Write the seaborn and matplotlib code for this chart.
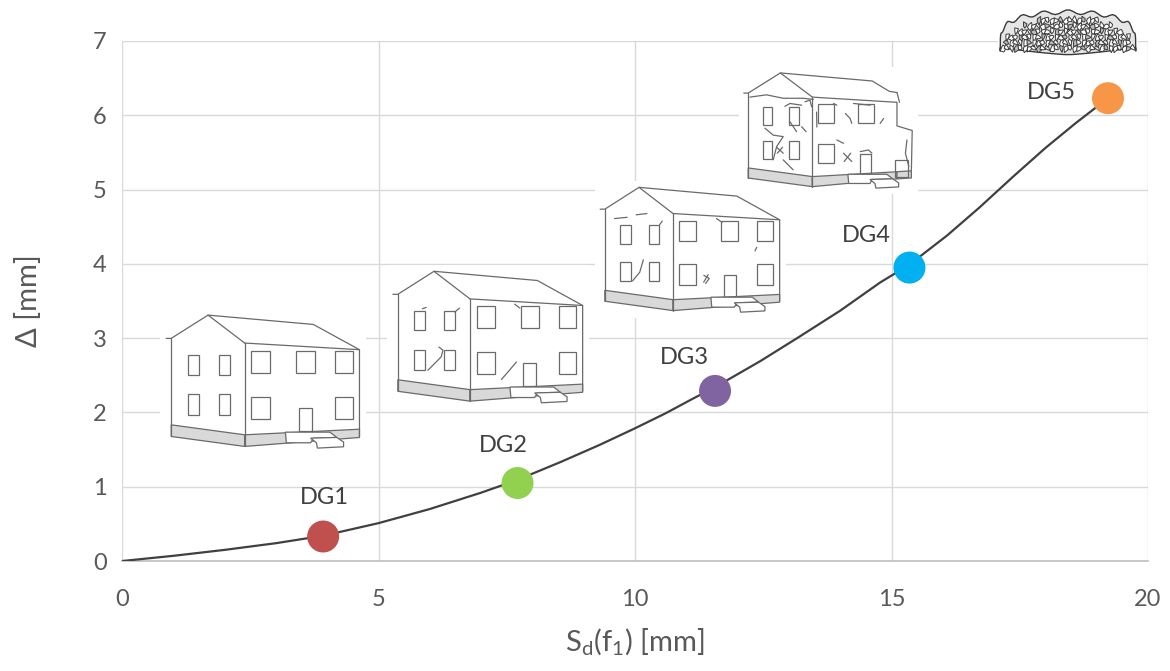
import numpy as np
import matplotlib
matplotlib.use("Agg")
import matplotlib.pyplot as plt
import matplotlib.transforms as mtransforms
from matplotlib.patches import Polygon, Rectangle
import pandas as pd
import seaborn as sns

# capacity curve
curve_x = [0, 1, 2, 3, 3.92, 5, 6, 7, 7.7, 8.54, 9.3, 9.98, 10.6, 11.14, 11.56,
           12.44, 13.16, 14.0, 14.78, 15.35, 16.08, 16.7, 17.38, 18.0, 18.6, 19.22]
curve_y = [0, 0.07, 0.15, 0.24, 0.34, 0.51, 0.70, 0.92, 1.09, 1.33, 1.56, 1.78,
           1.99, 2.19, 2.34, 2.69, 3.00, 3.37, 3.75, 3.99, 4.38, 4.75, 5.18, 5.56,
           5.90, 6.23]

# damage grades
dg_labels = ["DG1", "DG2", "DG3", "DG4", "DG5"]
dg_x = [3.92, 7.71, 11.56, 15.35, 19.22]
dg_y = [0.33, 1.05, 2.29, 3.95, 6.23]
dg_colors = ["#c0504d", "#92d050", "#8064a2", "#00b0f0", "#f79646"]
label_offsets = [(1, 28), (-10, 27), (-22, 24), (-31, 23), (-41, 4)]

x_ticks = [0, 5, 10, 15, 20]
y_ticks = [0, 1, 2, 3, 4, 5, 6, 7]

sns.set_theme(style="white")
plt.rcParams["font.family"] = ["Lato", "DejaVu Sans"]
plt.rcParams["mathtext.fontset"] = "custom"
plt.rcParams["mathtext.rm"] = "Lato"
plt.rcParams["mathtext.it"] = "Lato:italic"

fig = plt.figure(figsize=(11.7, 6.71), dpi=100)
ax = fig.add_axes([0.1043, 0.1639, 0.8769, 0.775])

LINE = "#6a6a6a"
LW = 0.9


def draw_house(ax, box, cracks, broken=False):
    x0, x1, y0, y1 = box
    tr = mtransforms.Affine2D().scale(x1 - x0, y1 - y0).translate(x0, y0) + ax.transData
    ax.add_patch(Rectangle((-0.03, -0.05), 1.06, 1.1, transform=tr, fc="white",
                           ec="none", zorder=1.5))
    kw = dict(transform=tr, color=LINE, lw=LW, zorder=2, solid_capstyle="round")
    # base band
    ax.add_patch(Polygon([(0.026, 0.175), (0.405, 0.1), (0.405, 0.0125), (0.026, 0.0875)],
                         transform=tr, fc="#d9d9d9", ec=LINE, lw=LW, zorder=2))
    right_x = 0.905 if broken else 0.997
    ax.add_patch(Polygon([(0.405, 0.1), (right_x, 0.142), (right_x, 0.08), (0.405, 0.0125)],
                         transform=tr, fc="#d9d9d9", ec=LINE, lw=LW, zorder=2))
    if broken:
        ax.add_patch(Polygon([(0.905, 0.142), (0.99, 0.15), (0.99, 0.088), (0.905, 0.08)],
                             transform=tr, fc="#d9d9d9", ec=LINE, lw=LW, zorder=2))
    # walls and roof
    ax.plot([0.0, 0.026, 0.216, 0.405], [0.825, 0.825, 1.0, 0.79], **kw)
    ax.plot([0.026, 0.026], [0.825, 0.0875], **kw)
    ax.plot([0.405, 0.405], [0.79, 0.0125], **kw)
    if broken:
        ax.plot([0.216, 0.759, 0.86, 0.905], [1.0, 0.93, 0.84, 0.83], **kw)
        ax.plot([0.405, 0.905, 0.905, 0.995, 0.99], [0.79, 0.745, 0.54, 0.50, 0.15], **kw)
        ax.plot([0.905, 0.92], [0.83, 0.745], **kw)
    else:
        ax.plot([0.216, 0.759, 0.997], [1.0, 0.93, 0.74], **kw)
        ax.plot([0.405, 0.997, 0.997], [0.79, 0.74, 0.0875], **kw)
    # windows
    wins = [(0.112, 0.169, 0.55, 0.70), (0.27, 0.328, 0.55, 0.70),
            (0.112, 0.169, 0.25, 0.405), (0.27, 0.328, 0.25, 0.405),
            (0.44, 0.534, 0.568, 0.733), (0.672, 0.767, 0.568, 0.733),
            (0.871, 0.962, 0.568, 0.733),
            (0.44, 0.534, 0.218, 0.383), (0.871, 0.962, 0.218, 0.383),
            (0.686, 0.753, 0.125, 0.30)]
    for u0, u1, v0, v1 in wins:
        if broken and u0 > 0.85:
            u0, u1 = u0 + 0.02, u1 + 0.01
            v0, v1 = v0 - 0.12, v1 - 0.14
            if v1 > 0.5:
                continue
        ax.add_patch(Rectangle((u0, v0), u1 - u0, v1 - v0, transform=tr, fc="none",
                               ec=LINE, lw=LW, zorder=2))
    # steps
    ax.add_patch(Polygon([(0.615, 0.12), (0.845, 0.12), (0.88, 0.08), (0.76, 0.075),
                          (0.745, 0.04), (0.62, 0.04)], transform=tr, fc="white",
                         ec=LINE, lw=LW, zorder=2.1))
    ax.add_patch(Polygon([(0.745, 0.075), (0.88, 0.08), (0.915, 0.045), (0.915, 0.01),
                          (0.78, 0.0), (0.775, 0.04)], transform=tr, fc="white",
                         ec=LINE, lw=LW, zorder=2.1))
    for c in cracks:
        ax.plot([p[0] for p in c], [p[1] for p in c], **kw)


def draw_rubble(ax, box):
    x0, x1, y0, y1 = box
    tr = mtransforms.Affine2D().scale(x1 - x0, y1 - y0).translate(x0, y0) + ax.transData
    ax.add_patch(Rectangle((-0.02, -0.05), 1.04, 1.1, transform=tr, fc="white",
                           ec="none", zorder=1.5, clip_on=False))
    # mound outline
    t = np.linspace(0, np.pi, 60)
    su = 0.5 - 0.5 * np.cos(t)
    sv = 0.12 + 0.88 * np.sin(t) ** 0.45 + 0.05 * np.sin(t * 17)
    bu = np.linspace(1, 0, 20)
    bv = 0.1 + 0.1 * np.abs(2 * bu - 1) - 0.06 * np.sin(bu * np.pi)
    outline = np.column_stack([np.r_[su, bu], np.r_[sv, bv]])
    ax.add_patch(Polygon(outline, transform=tr, fc="#e6e6e6", ec="#3a3a3a", lw=1.0,
                         zorder=2, clip_on=False))
    nx, ny = 30, 8
    for i in range(nx):
        for j in range(ny):
            uc = (i + 0.5) / nx
            vc = (j + 0.5) / ny
            top = 0.12 + 0.85 * max(0.0, np.sin(np.pi * uc)) ** 0.45
            bot = 0.08 + 0.1 * abs(2 * uc - 1)
            if vc > top - 0.04 or vc < bot:
                continue
            pts = []
            for k in range(5):
                a = 2 * np.pi * k / 5 + 0.6 * np.sin(i * 1.7 + j * 2.9)
                r = 0.55 + 0.3 * np.sin(i * 2.3 + j * 1.1 + k * 1.9)
                pts.append((uc + r * np.cos(a) / nx, vc + r * np.sin(a) / ny))
            fc = "#bdbdbd" if (i * 3 + j) % 5 == 0 else "white"
            ax.add_patch(Polygon(pts, transform=tr, fc=fc, ec="#3a3a3a", lw=0.7,
                                 zorder=2.1, clip_on=False))


house_boxes = [(0.86, 4.64, 1.52, 3.31), (5.28, 8.99, 2.13, 3.90),
               (9.32, 12.83, 3.35, 5.03), (12.12, 15.42, 5.02, 6.57)]
house_cracks = [
    [],
    [[(0.155, 0.715), (0.175, 0.725)], [(0.325, 0.69), (0.35, 0.72)],
     [(0.242, 0.424), (0.263, 0.40), (0.254, 0.35), (0.184, 0.247)],
     [(0.64, 0.75), (0.667, 0.72)], [(0.649, 0.31), (0.605, 0.235), (0.57, 0.177)]],
    [[(0.08, 0.75), (0.15, 0.76)], [(0.20, 0.78), (0.26, 0.79)],
     [(0.646, 0.75), (0.677, 0.72)], [(0.24, 0.42), (0.22, 0.32), (0.18, 0.25)],
     [(0.576, 0.295), (0.606, 0.27), (0.586, 0.23)], [(0.60, 0.30), (0.575, 0.24)],
     [(0.87, 0.52), (0.86, 0.49)], [(0.33, 0.70), (0.345, 0.73)]],
    [[(0.036, 0.79), (0.134, 0.81), (0.233, 0.78), (0.352, 0.78), (0.411, 0.77)],
     [(0.243, 0.71), (0.273, 0.735), (0.342, 0.72)], [(0.273, 0.576), (0.312, 0.49)],
     [(0.342, 0.533), (0.368, 0.49)],
     [(0.125, 0.52), (0.174, 0.46), (0.233, 0.447), (0.194, 0.36), (0.174, 0.245)],
     [(0.194, 0.355), (0.233, 0.303)], [(0.229, 0.355), (0.198, 0.303)],
     [(0.233, 0.245), (0.292, 0.158)], [(0.362, 0.75), (0.391, 0.764), (0.401, 0.706)],
     [(0.53, 0.735), (0.55, 0.72)], [(0.60, 0.648), (0.628, 0.605), (0.638, 0.562)],
     [(0.648, 0.735), (0.747, 0.72)], [(0.826, 0.605), (0.806, 0.562)],
     [(0.55, 0.418), (0.589, 0.389)], [(0.589, 0.303), (0.638, 0.231)],
     [(0.632, 0.303), (0.593, 0.231)], [(0.688, 0.317), (0.737, 0.331), (0.757, 0.303)],
     [(0.964, 0.418), (0.955, 0.303), (0.975, 0.187)], [(0.43, 0.66), (0.432, 0.53)]],
]
for i, box in enumerate(house_boxes):
    draw_house(ax, box, house_cracks[i], broken=(i == 3))
draw_rubble(ax, (17.12, 19.76, 6.79, 7.39))

curve = pd.DataFrame({"x": curve_x, "y": curve_y})
sns.lineplot(data=curve, x="x", y="y", sort=False, estimator=None, color="#404040",
             lw=1.6, ax=ax, zorder=3, solid_joinstyle="round")
pts = pd.DataFrame({"x": dg_x, "y": dg_y, "grade": dg_labels})
sns.scatterplot(data=pts, x="x", y="y", hue="grade", palette=dg_colors, s=530,
                edgecolor="none", legend=False, ax=ax, zorder=4, clip_on=False)
for lab, x, y, off in zip(dg_labels, dg_x, dg_y, label_offsets):
    ax.annotate(lab, (x, y), xytext=off, textcoords="offset points", ha="center",
                va="center", fontsize=17, color="#404040", zorder=5)

ax.set_xlim(0, 20)
ax.set_ylim(0, 7)
ax.set_xticks(x_ticks)
ax.set_yticks(y_ticks)
ax.grid(True, color="#d9d9d9", lw=1)
ax.set_axisbelow(True)
for side in ["top", "right", "left"]:
    ax.spines[side].set_visible(False)
ax.spines["bottom"].set_color("#bfbfbf")
ax.spines["bottom"].set_linewidth(1.2)
ax.tick_params(axis="both", length=0, labelsize=17, labelcolor="#595959")
ax.tick_params(axis="x", pad=20)
ax.tick_params(axis="y", pad=11)

ax.set_xlabel(r"S$_\mathrm{d}$(f$_1$) [mm]", fontsize=21, color="#595959", va="center")
ax.xaxis.set_label_coords(0.5, -0.155)
ax.set_ylabel("Δ [mm]", fontsize=21, color="#595959", va="center")
ax.yaxis.set_label_coords(-0.091, 0.5)

fig.savefig("out.png", dpi=100, facecolor="white")
